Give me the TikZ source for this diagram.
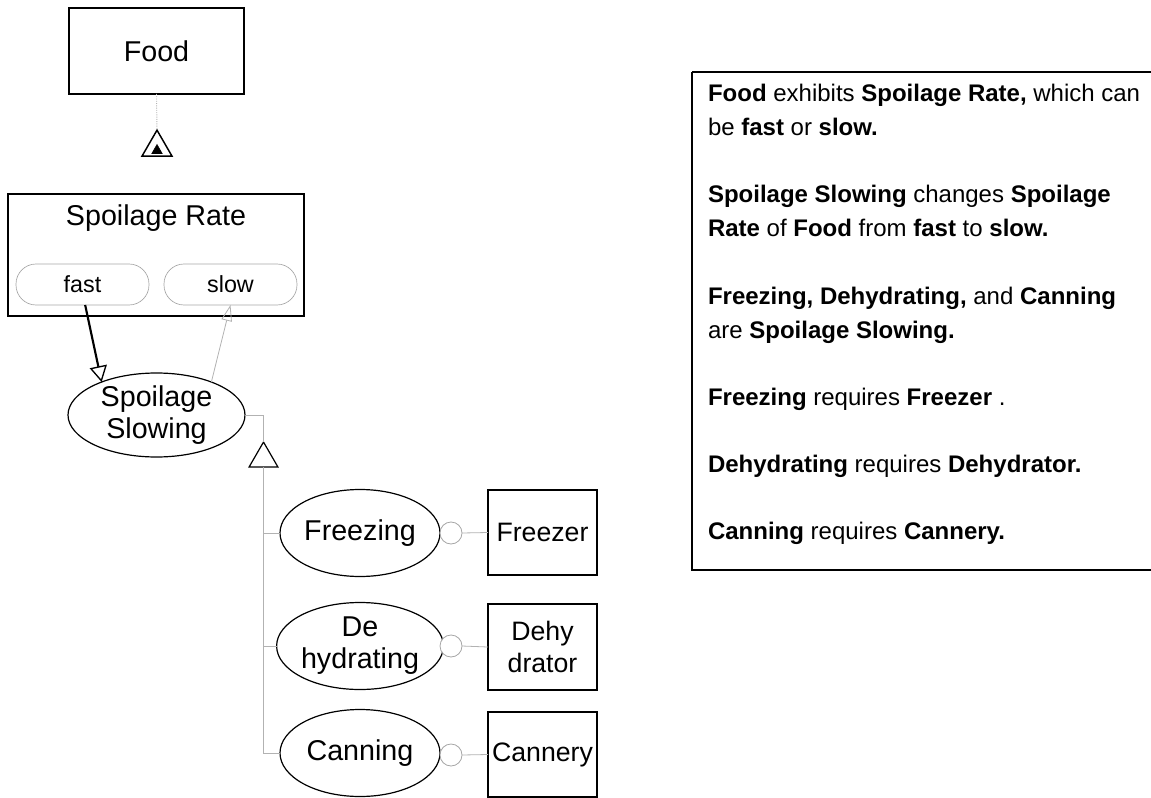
\documentclass[tikz,border=0pt]{standalone}
\usepackage{fontspec}
\setmainfont{Liberation Sans}
\usetikzlibrary{shapes.geometric,arrows.meta}
\newcommand\diagfont{\fontsize{21.5}{24}\selectfont}
\begin{document}
\begin{tikzpicture}[x=0.75pt,y=-0.75pt,
  every node/.style={inner sep=0pt, outer sep=0pt},
  lbl/.style={font=\diagfont},
  object/.style={rectangle, draw=black, line width=0.9pt, font=\diagfont, align=center},
  process/.style={ellipse, draw=black, line width=0.9pt, font=\diagfont, align=center},
  instrument/.style={object, minimum width=81.75pt, font=\fontsize{20}{24}\selectfont},
  statepill/.style={rectangle, draw=gray!70, line width=0.5pt, rounded corners=15pt,
    minimum width=99.75pt, minimum height=30.75pt, font=\fontsize{17.5}{20}\selectfont},
  link/.style={draw=gray!60, line width=0.6pt},
  agent/.style={circle, draw=gray!70, line width=0.6pt, minimum size=16.5pt, fill=white},
  tri/.style={regular polygon, regular polygon sides=3, draw=black},
  para/.style={anchor=base west, font=\fontsize{18}{26}\selectfont},
]
\useasboundingbox (0,0) rectangle (1151,798);
\clip (0,0) rectangle (1151,798);

% objects and states
\node[object, minimum width=131.25pt, minimum height=64.5pt] (food) at (156.5,51) {Food};
\node[object, minimum width=222pt, minimum height=91.5pt] (rate) at (156,255) {};
\node[lbl, anchor=base] (ratetitle) at (156,226) {Spoilage Rate};
\node[statepill] (fast) at (82.5,284.5) {fast};
\node[statepill] (slow) at (230.5,284.5) {slow};

% exhibition symbol
\node[tri, line width=1.1pt, minimum size=26pt] (exhib) at (157,147.5) {};
\node[tri, fill=black, minimum size=9pt] (exhibin) at (157,150.5) {};

% processes
\node[process, minimum width=132.75pt, minimum height=63pt] (slowing) at (156.5,415) {Spoilage\\Slowing};
\node[tri, line width=0.9pt, minimum size=25pt] (gen) at (263.5,458.7) {};
\node[process, minimum width=120pt, minimum height=65.25pt] (freezing) at (360,533) {Freezing};
\node[process, minimum width=120pt, minimum height=65.25pt] (dehyd) at (360,646) {De\\hydrating};
\node[process, minimum width=120pt, minimum height=65.25pt] (canning) at (360,753) {Canning};

% instruments
\node[agent] (c1) at (451,533) {};
\node[agent] (c2) at (451,646) {};
\node[agent] (c3) at (451,755) {};
\node[instrument, minimum height=63.75pt] (freezer) at (542.5,532.5) {Freezer};
\node[instrument, minimum height=64.5pt] (dehydrator) at (542.5,647) {Dehy\\drator};
\node[instrument, minimum height=63.75pt] (cannery) at (542.5,754.5) {Cannery};

% links
\draw[gray!60, densely dotted, line width=0.7pt] (food.south) -- (exhib.north);
\draw[line width=1.6pt, -{Triangle[open, length=12pt, width=13pt, line width=1pt]}]
  ([xshift=2pt]fast.south) -- (slowing.149);
\draw[link, -{Triangle[open, length=12pt, width=8pt]}] (slowing.31) -- (slow.south);
\draw[link] (slowing.east) -| (gen.north);
\draw[link] (gen.south) |- (freezing.west);
\draw[link] (gen.south) |- (dehyd.west);
\draw[link] (gen.south) |- (canning.west);
\draw[link] (c1.east) -- (freezer.west);
\draw[link] (c2.east) -- (dehydrator.west);
\draw[link] (c3.east) -- (cannery.west);

% description panel
\draw[line width=1.4pt] (1160,72) -- (692,72);
\draw[line width=0.8pt] (692,72) -- (692,570) -- (1160,570);
\node[para] (t1) at (708,102) {\textbf{Food} exhibits \textbf{Spoilage Rate,} which can};
\node[para] (t2) at (708,136) {be \textbf{fast} or \textbf{slow.}};
\node[para] (t3) at (708,203) {\textbf{Spoilage Slowing} changes \textbf{Spoilage}};
\node[para] (t4) at (708,237) {\textbf{Rate} of \textbf{Food} from \textbf{fast} to \textbf{slow.}};
\node[para] (t5) at (708,304) {\textbf{Freezing, Dehydrating,} and \textbf{Canning}};
\node[para] (t6) at (708,338) {are \textbf{Spoilage Slowing.}};
\node[para] (t7) at (708,405) {\textbf{Freezing} requires \textbf{Freezer} .};
\node[para] (t8) at (708,472) {\textbf{Dehydrating} requires \textbf{Dehydrator.}};
\node[para] (t9) at (708,539) {\textbf{Canning} requires \textbf{Cannery.}};
\end{tikzpicture}
\end{document}
